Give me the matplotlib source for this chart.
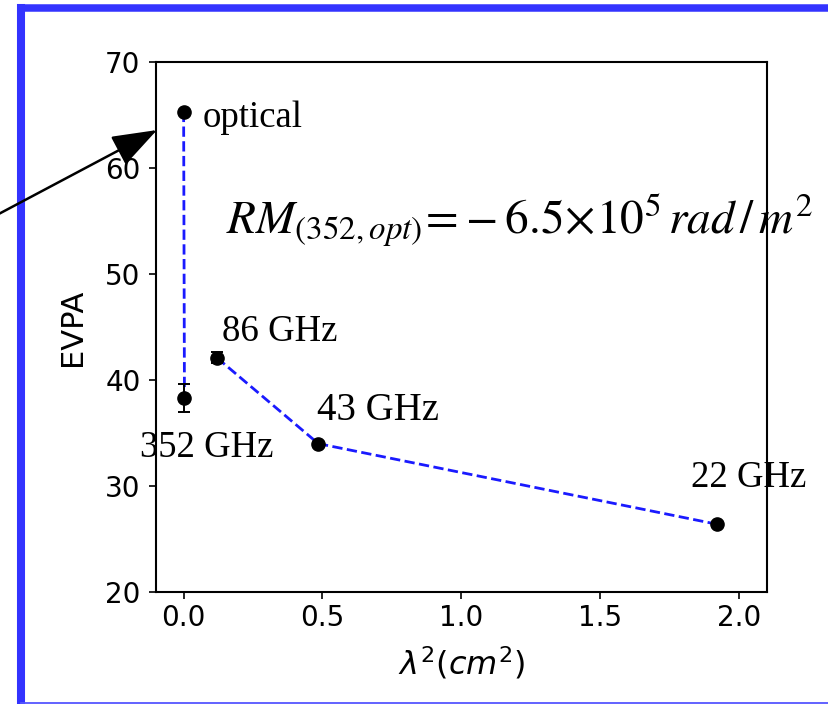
import matplotlib
matplotlib.use("Agg")
import matplotlib.pyplot as plt
from matplotlib.lines import Line2D
from matplotlib.patches import FancyArrowPatch

# lambda^2 (cm^2) and EVPA (deg) for each band
bands = ["optical", "352 GHz", "86 GHz", "43 GHz", "22 GHz"]
lam2 = [0.0, 0.003, 0.12, 0.485, 1.92]
evpa = [65.3, 38.3, 42.1, 34.0, 26.4]
evpa_err = [0.0, 1.3, 0.5, 0.0, 0.0]

# label anchor points (data coords, baseline)
label_x = [0.07, -0.157, 0.139, 0.481, 1.827]
label_y = [63.9, 32.7, 43.7, 36.2, 29.9]
label_size = [26.5, 26.5, 26.5, 28, 26.5]

fig = plt.figure(figsize=(8.29, 7.04), dpi=100)
ax = fig.add_axes([0.188, 0.159, 0.737, 0.753])

serif = ["Liberation Serif", "DejaVu Serif"]

# dashed connections: optical -> 352 GHz, and 86 -> 43 -> 22 GHz
ax.plot(lam2[0:2], evpa[0:2], "--", color="#1a1aff", lw=2.0, zorder=2)
ax.plot(lam2[2:], evpa[2:], "--", color="#1a1aff", lw=2.0, zorder=2)

ax.errorbar(lam2, evpa, yerr=evpa_err, fmt="o", color="black", ms=9.5,
            ecolor="black", elinewidth=1.4, capsize=4, capthick=1.4, zorder=3)

for name, x, y, fs in zip(bands, label_x, label_y, label_size):
    ax.text(x, y, name, fontsize=fs, family=serif, va="baseline", ha="left",
            clip_on=False)

plt.rcParams["mathtext.fontset"] = "stix"
ax.text(0.153, 53.8,
        r"$RM_{\left(352,opt\right)}\!=\!-6.5\!\times\!10^5\,rad\,/\,m^2$",
        fontsize=34, va="baseline", ha="left", clip_on=False, zorder=5)

ax.set_xlim(-0.1, 2.1)
ax.set_ylim(20, 70)
ax.set_xticks([0.0, 0.5, 1.0, 1.5, 2.0])
ax.set_yticks([20, 30, 40, 50, 60, 70])
ax.tick_params(labelsize=20, length=5, width=1.2)
ax.tick_params(axis="y", pad=6)
for sp in ax.spines.values():
    sp.set_linewidth(1.5)

ax.set_ylabel("EVPA", fontsize=22, labelpad=13)
ax.set_xlabel(r"$\lambda^2(cm^2)$", fontsize=23, labelpad=9)

# plain dejavu for the axis label mathtext
ax.xaxis.label.set_math_fontfamily("dejavusans")

# blue frame around the panel (left, top, bottom edges)
W, H = 829.0, 704.0
frame_color = "#3333ff"
fig.add_artist(Line2D([21 / W, 21 / W], [0.0, 1 - 7.5 / H],
                      transform=fig.transFigure, color=frame_color, lw=5.8,
                      solid_capstyle="projecting"))
fig.add_artist(Line2D([21 / W, 1.0], [1 - 7.5 / H, 1 - 7.5 / H],
                      transform=fig.transFigure, color=frame_color, lw=5.4,
                      solid_capstyle="projecting"))
fig.add_artist(Line2D([21 / W, 1.0], [1 - 703.2 / H, 1 - 703.2 / H],
                      transform=fig.transFigure, color="#5555ff", lw=1.3))

# pointer arrow coming in from the left to the optical point
arrow = FancyArrowPatch((-0.024, 0.682), (0.1894, 0.8153),
                        transform=fig.transFigure,
                        arrowstyle="-|>,head_length=1.4,head_width=0.5",
                        mutation_scale=20, lw=1.8, color="black",
                        shrinkA=0, shrinkB=0, zorder=10)
fig.add_artist(arrow)

fig.savefig("out.png", dpi=100)
